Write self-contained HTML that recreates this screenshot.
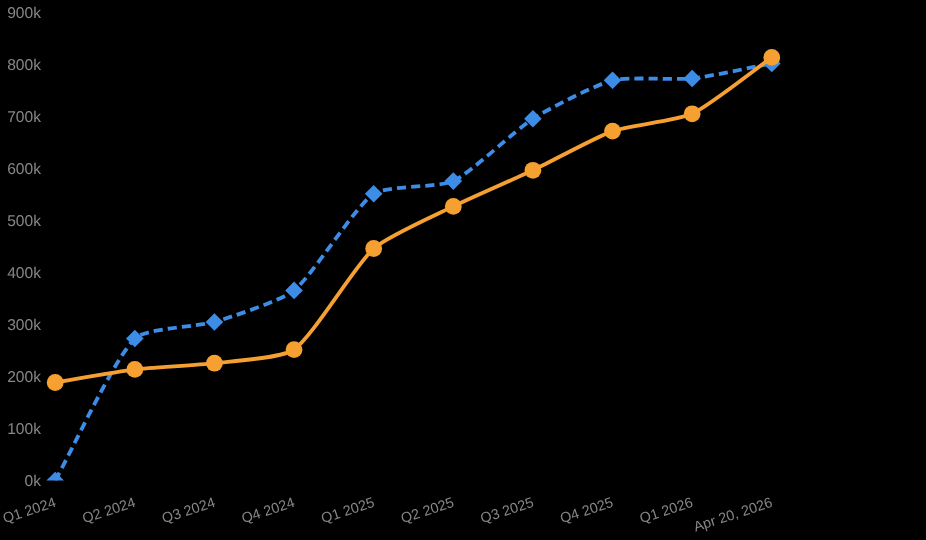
<!DOCTYPE html>
<html lang="en">
<head>
<meta charset="utf-8">
<title>Chart</title>
<style>
html,body{margin:0;padding:0;background:#000;}
body{width:926px;height:540px;overflow:hidden;}
svg{display:block;}
text{font-family:"Liberation Sans",sans-serif;fill:#868686;}
.y{font-size:15.60px;text-anchor:end;}
.x{font-size:14.30px;text-anchor:end;}
</style>
</head>
<body>
<svg width="926" height="540" viewBox="0 0 926 540">
<rect width="926" height="540" fill="#000"/>
<defs><clipPath id="c"><rect x="0" y="0" width="926" height="480.60"/></clipPath></defs>

<text class="y" transform="translate(41.00,486.00) rotate(-0.050)">0k</text>
<text class="y" transform="translate(41.00,434.00) rotate(-0.050)">100k</text>
<text class="y" transform="translate(41.00,382.00) rotate(-0.050)">200k</text>
<text class="y" transform="translate(41.00,330.00) rotate(-0.050)">300k</text>
<text class="y" transform="translate(41.00,278.00) rotate(-0.050)">400k</text>
<text class="y" transform="translate(41.00,226.00) rotate(-0.050)">500k</text>
<text class="y" transform="translate(41.00,174.00) rotate(-0.050)">600k</text>
<text class="y" transform="translate(41.00,122.00) rotate(-0.050)">700k</text>
<text class="y" transform="translate(41.00,70.00) rotate(-0.050)">800k</text>
<text class="y" transform="translate(41.00,18.00) rotate(-0.050)">900k</text>
<text class="x" transform="translate(56.80,506.40) rotate(-18.00)">Q1 2024</text>
<text class="x" transform="translate(136.42,506.40) rotate(-18.00)">Q2 2024</text>
<text class="x" transform="translate(216.04,506.40) rotate(-18.00)">Q3 2024</text>
<text class="x" transform="translate(295.66,506.40) rotate(-18.00)">Q4 2024</text>
<text class="x" transform="translate(375.28,506.40) rotate(-18.00)">Q1 2025</text>
<text class="x" transform="translate(454.90,506.40) rotate(-18.00)">Q2 2025</text>
<text class="x" transform="translate(534.52,506.40) rotate(-18.00)">Q3 2025</text>
<text class="x" transform="translate(614.14,506.40) rotate(-18.00)">Q4 2025</text>
<text class="x" transform="translate(693.76,506.40) rotate(-18.00)">Q1 2026</text>
<text class="x" transform="translate(773.38,506.40) rotate(-18.00)">Apr 20, 2026</text>
<g clip-path="url(#c)">
<path d="M55.20,480.60C71.12,452.18 113.58,359.66 134.82,338.50C145.42,327.94 198.93,326.68 214.44,322.00C230.78,317.06 281.12,300.82 294.06,290.40C312.97,275.18 354.31,207.10 373.68,193.80C386.16,185.24 439.17,187.76 453.30,181.10C471.02,172.74 515.92,129.46 532.92,118.70C547.77,109.30 595.79,84.53 612.54,80.30C627.63,76.49 676.37,80.18 692.16,78.50C708.22,76.80 755.86,66.42 771.78,63.40" fill="none" stroke="#3d8de6" stroke-width="3.80" stroke-dasharray="9.05 5.09" stroke-dashoffset="0.00"/>
<path d="M46.40,480.60L55.20,471.80L64.00,480.60L55.20,489.40Z" fill="#3d8de6"/>
<path d="M126.02,338.50L134.82,329.70L143.62,338.50L134.82,347.30Z" fill="#3d8de6"/>
<path d="M205.64,322.00L214.44,313.20L223.24,322.00L214.44,330.80Z" fill="#3d8de6"/>
<path d="M285.26,290.40L294.06,281.60L302.86,290.40L294.06,299.20Z" fill="#3d8de6"/>
<path d="M364.88,193.80L373.68,185.00L382.48,193.80L373.68,202.60Z" fill="#3d8de6"/>
<path d="M444.50,181.10L453.30,172.30L462.10,181.10L453.30,189.90Z" fill="#3d8de6"/>
<path d="M524.12,118.70L532.92,109.90L541.72,118.70L532.92,127.50Z" fill="#3d8de6"/>
<path d="M603.74,80.30L612.54,71.50L621.34,80.30L612.54,89.10Z" fill="#3d8de6"/>
<path d="M683.36,78.50L692.16,69.70L700.96,78.50L692.16,87.30Z" fill="#3d8de6"/>
<path d="M762.98,63.40L771.78,54.60L780.58,63.40L771.78,72.20Z" fill="#3d8de6"/>
<path d="M55.20,382.50C71.12,379.88 118.81,371.34 134.82,369.40C150.66,367.48 198.61,365.17 214.44,363.20C230.45,361.21 281.78,358.45 294.06,349.60C313.63,335.51 354.94,265.35 373.68,248.50C386.79,236.71 437.14,214.34 453.30,206.40C468.99,198.70 517.12,177.77 532.92,170.30C548.96,162.71 595.94,136.99 612.54,131.10C627.78,125.69 677.67,120.51 692.16,113.80C709.52,105.77 755.86,68.68 771.78,57.40" fill="none" stroke="#f5a030" stroke-width="3.80"/>
<circle cx="55.20" cy="382.50" r="8.40" fill="#f5a030"/>
<circle cx="134.82" cy="369.40" r="8.40" fill="#f5a030"/>
<circle cx="214.44" cy="363.20" r="8.40" fill="#f5a030"/>
<circle cx="294.06" cy="349.60" r="8.40" fill="#f5a030"/>
<circle cx="373.68" cy="248.50" r="8.40" fill="#f5a030"/>
<circle cx="453.30" cy="206.40" r="8.40" fill="#f5a030"/>
<circle cx="532.92" cy="170.30" r="8.40" fill="#f5a030"/>
<circle cx="612.54" cy="131.10" r="8.40" fill="#f5a030"/>
<circle cx="692.16" cy="113.80" r="8.40" fill="#f5a030"/>
<circle cx="771.78" cy="57.40" r="8.40" fill="#f5a030"/>
</g>
</svg>
</body>
</html>
